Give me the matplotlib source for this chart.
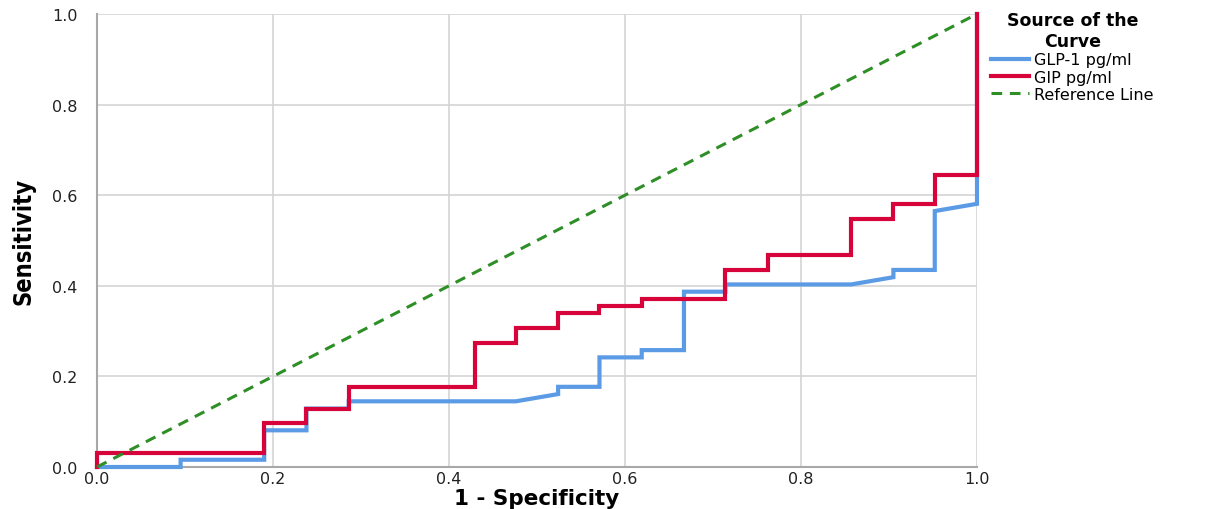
import matplotlib
matplotlib.use("Agg")
import matplotlib.pyplot as plt

# --- data (ROC coordinates, vertices of each curve) ---
glp1_fpr = [0.0, 0.095, 0.095, 0.190, 0.190, 0.238, 0.238, 0.286, 0.286, 0.476,
            0.524, 0.524, 0.571, 0.571, 0.619, 0.619, 0.667, 0.667, 0.714, 0.714,
            0.857, 0.905, 0.905, 0.952, 0.952, 1.0, 1.0]
glp1_tpr = [0.0, 0.0, 0.016, 0.016, 0.081, 0.081, 0.129, 0.129, 0.145, 0.145,
            0.161, 0.177, 0.177, 0.242, 0.242, 0.258, 0.258, 0.387, 0.387, 0.403,
            0.403, 0.419, 0.435, 0.435, 0.565, 0.581, 1.0]

gip_fpr = [0.0, 0.0, 0.190, 0.190, 0.238, 0.238, 0.286, 0.286, 0.429, 0.429,
           0.476, 0.476, 0.524, 0.524, 0.571, 0.571, 0.619, 0.619, 0.714, 0.714,
           0.762, 0.762, 0.857, 0.857, 0.905, 0.905, 0.952, 0.952, 1.0, 1.0]
gip_tpr = [0.0, 0.032, 0.032, 0.097, 0.097, 0.129, 0.129, 0.177, 0.177, 0.274,
           0.274, 0.306, 0.306, 0.339, 0.339, 0.355, 0.355, 0.371, 0.371, 0.435,
           0.435, 0.468, 0.468, 0.548, 0.548, 0.581, 0.581, 0.645, 0.645, 1.0]

ref_x = [0.0, 1.0]
ref_y = [0.0, 1.0]

ticks = [0.0, 0.2, 0.4, 0.6, 0.8, 1.0]
tick_labels = ["0.0", "0.2", "0.4", "0.6", "0.8", "1.0"]

# --- figure ---
W, H = 1215, 510
fig = plt.figure(figsize=(W / 100, H / 100), dpi=100)
fig.subplots_adjust(left=97 / W, right=977 / W, bottom=1 - 468 / H, top=1 - 15 / H)
ax = fig.add_subplot(111)

ax.plot(glp1_fpr, glp1_tpr, color="#5b9be6", lw=3, label="GLP-1 pg/ml",
        clip_on=False, zorder=3, solid_joinstyle="miter")
ax.plot(gip_fpr, gip_tpr, color="#d6043b", lw=3, label="GIP pg/ml",
        clip_on=False, zorder=4, solid_joinstyle="miter")
ax.plot(ref_x, ref_y, color="#2f8f27", lw=2.2, ls=(0, (3.5, 2.5)),
        label="Reference Line", clip_on=False, zorder=5)

ax.set_xlim(0, 1)
ax.set_ylim(0, 1)
ax.set_xticks(ticks)
ax.set_yticks(ticks)
ax.set_xticklabels(tick_labels)
ax.set_yticklabels(tick_labels)
ax.tick_params(length=0, labelsize=11.5, colors="#222222")
ax.tick_params(axis="y", pad=14)
ax.tick_params(axis="x", pad=3)

ax.grid(True, color="#d4d4d4", lw=1.2)
ax.set_axisbelow(True)
for s in ["top", "right"]:
    ax.spines[s].set_visible(False)
for s in ["left", "bottom"]:
    ax.spines[s].set_color("#a8a8a8")
    ax.spines[s].set_linewidth(1.5)

ax.set_xlabel("1 - Specificity", fontsize=15.5, fontweight="bold", labelpad=1)
ax.set_ylabel("Sensitivity", fontsize=17, fontweight="bold", fontstretch="condensed",
              family=["DejaVu Sans Condensed", "Liberation Sans Narrow", "DejaVu Sans"],
              labelpad=12)

leg = fig.legend(loc="upper left", bbox_to_anchor=(991 / W, 1 - 12 / H),
                 frameon=False, fontsize=11.5, title="Source of the\nCurve",
                 title_fontproperties={"weight": "bold", "size": 12.5},
                 alignment="center",
                 handlelength=2.4, handletextpad=0.3, labelspacing=0.15,
                 borderaxespad=0, borderpad=0)
leg.get_title().set_multialignment("center")

fig.savefig("out.png", dpi=100)
